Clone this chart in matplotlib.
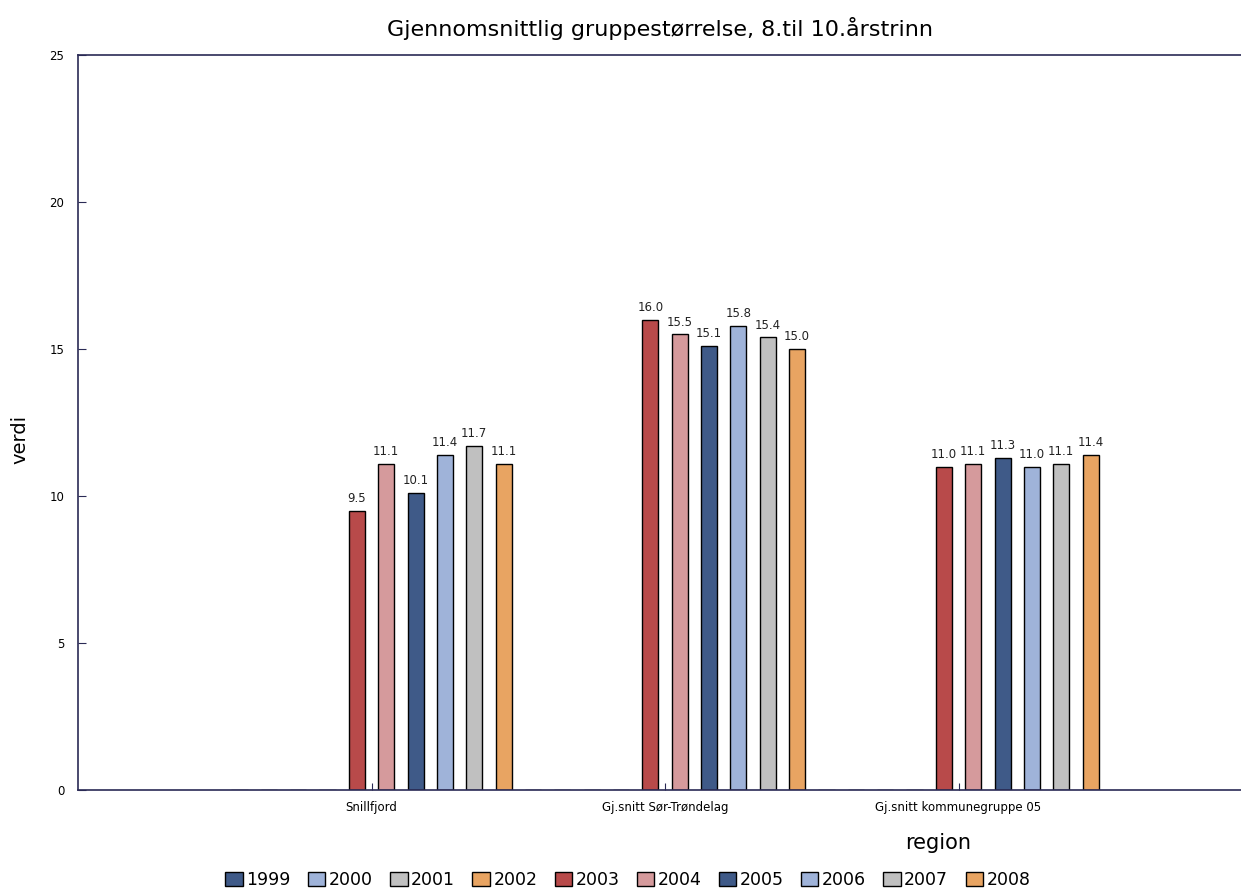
import matplotlib
matplotlib.use('Agg')
import matplotlib.pyplot as plt
import matplotlib.transforms as mtransforms
import numpy as np

# Data
regions = ['Snillfjord', 'Gj.snitt Sør-Trøndelag', 'Gj.snitt kommunegruppe 05']
years = ['1999', '2000', '2001', '2002', '2003', '2004', '2005', '2006', '2007', '2008']
values = {
    '1999': [np.nan, np.nan, np.nan],
    '2000': [np.nan, np.nan, np.nan],
    '2001': [np.nan, np.nan, np.nan],
    '2002': [np.nan, np.nan, np.nan],
    '2003': [9.5, 16.0, 11.0],
    '2004': [11.1, 15.5, 11.1],
    '2005': [10.1, 15.1, 11.3],
    '2006': [11.4, 15.8, 11.0],
    '2007': [11.7, 15.4, 11.1],
    '2008': [11.1, 15.0, 11.4],
}
colors = ['#3f5a88', '#9fb3d9', '#c0c0c0', '#e8a462',
          '#b84a4a', '#d59a9c', '#3f5a88', '#9fb3d9', '#c0c0c0', '#e8a462']

fig = plt.figure(figsize=(12.41, 8.88), dpi=100)
# axis runs a little past the right edge of the picture, as in the reference
ax = fig.add_axes([0.0629, 0.110, 0.946, 0.828])

x = np.arange(1, len(regions) + 1)
slot = 0.1
bar_w = 0.055
for i, (yr, col) in enumerate(zip(years, colors)):
    vals = np.array(values[yr], dtype=float)
    pos = x + (i - 4.5) * slot
    ax.bar(pos, np.nan_to_num(vals), width=bar_w, color=col,
           edgecolor='black', linewidth=1.0, label=yr)
    for p, v in zip(pos, vals):
        if not np.isnan(v):
            ax.text(p, v + 0.2, f'{v:.1f}', ha='center', va='bottom',
                    fontsize=8.5, color='#222222')

ax.set_xlim(0, 4)
ax.set_ylim(0, 25)
ax.set_yticks([0, 5, 10, 15, 20, 25])
ax.set_xticks(x)
ax.set_xticklabels(regions, fontsize=8.5)
# labels sit a bit left of the tick marks
shift = mtransforms.ScaledTranslation(-0.11, 0, fig.dpi_scale_trans)
for lab in ax.get_xticklabels():
    lab.set_transform(lab.get_transform() + shift)
ax.tick_params(axis='y', direction='in', length=6, labelsize=8.5, color='#2a2a55', pad=10)
ax.tick_params(axis='x', direction='in', length=5, color='#2a2a55', pad=8)

for s in ['left', 'bottom', 'top', 'right']:
    ax.spines[s].set_color('#2a2a55')
    ax.spines[s].set_linewidth(1.2)

fig.text(0.532, 0.968, 'Gjennomsnittlig gruppestørrelse, 8.til 10.årstrinn',
         ha='center', va='center', fontsize=16)
fig.text(0.756, 0.051, 'region', ha='center', va='center', fontsize=15)
fig.text(0.016, 0.505, 'verdi', ha='center', va='center', rotation=90, fontsize=14)

handles, labels = ax.get_legend_handles_labels()
fig.legend(handles, labels, loc='center', bbox_to_anchor=(0.506, 0.009),
           ncol=10, frameon=False, fontsize=12.5, handlelength=1.0, handleheight=0.9,
           handletextpad=0.2, columnspacing=1.0)

fig.savefig('out.png', dpi=100)
